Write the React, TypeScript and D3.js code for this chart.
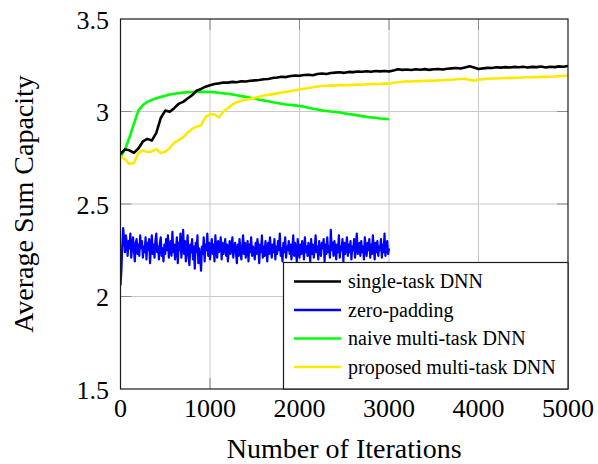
import React from "react";
import * as d3 from "d3";

// Iteration grids for each training curve
const step50To5000 = d3.range(0, 5001, 50);
const step50To3000 = d3.range(0, 3001, 50);
const step10To3000 = d3.range(0, 3001, 10);

// Average sum capacity per iteration
const singleTaskDNN = [
  2.771, 2.795, 2.79, 2.776, 2.8, 2.838, 2.852, 2.843, 2.885, 2.965,
  3.005, 2.998, 3.018, 3.042, 3.052, 3.07, 3.088, 3.112, 3.122, 3.134,
  3.142, 3.149, 3.152, 3.157, 3.156, 3.16, 3.158, 3.163, 3.162, 3.166,
  3.168, 3.17, 3.174, 3.176, 3.181, 3.184, 3.188, 3.186, 3.192, 3.194,
  3.193, 3.197, 3.199, 3.196, 3.203, 3.205, 3.203, 3.208, 3.21, 3.212,
  3.209, 3.214, 3.213, 3.216, 3.215, 3.218, 3.215, 3.219, 3.217, 3.219,
  3.216, 3.222, 3.228, 3.225, 3.227, 3.224, 3.228, 3.226, 3.229, 3.225,
  3.228, 3.23, 3.227, 3.231, 3.233, 3.235, 3.232, 3.238, 3.244, 3.238,
  3.23, 3.233, 3.236, 3.235, 3.239, 3.237, 3.24, 3.238, 3.241, 3.239,
  3.242, 3.238, 3.241, 3.24, 3.243, 3.238, 3.242, 3.24, 3.244, 3.242,
  3.246,
];

const zeroPadding = [
  2.06, 2.14, 2.28, 2.37, 2.31, 2.24, 2.33, 2.29, 2.22, 2.3,
  2.26, 2.34, 2.21, 2.27, 2.32, 2.25, 2.19, 2.29, 2.31, 2.23,
  2.28, 2.22, 2.33, 2.26, 2.3, 2.21, 2.27, 2.24, 2.32, 2.2,
  2.29, 2.25, 2.31, 2.18, 2.26, 2.33, 2.23, 2.28, 2.21, 2.3,
  2.34, 2.24, 2.27, 2.2, 2.29, 2.32, 2.22, 2.26, 2.19, 2.28,
  2.23, 2.31, 2.25, 2.33, 2.21, 2.27, 2.3, 2.22, 2.35, 2.24,
  2.28, 2.2, 2.26, 2.32, 2.18, 2.29, 2.25, 2.34, 2.21, 2.27,
  2.36, 2.23, 2.3, 2.19, 2.26, 2.33, 2.22, 2.17, 2.28, 2.24,
  2.31, 2.2, 2.27, 2.15, 2.29, 2.24, 2.33, 2.18, 2.26, 2.21,
  2.14, 2.27, 2.23, 2.32, 2.19, 2.28, 2.25, 2.34, 2.22, 2.29,
  2.2, 2.26, 2.31, 2.23, 2.28, 2.19, 2.33, 2.25, 2.21, 2.3,
  2.24, 2.27, 2.32, 2.2, 2.29, 2.23, 2.26, 2.31, 2.22, 2.28,
  2.19, 2.25, 2.3, 2.23, 2.27, 2.32, 2.21, 2.26, 2.29, 2.24,
  2.18, 2.28, 2.22, 2.31, 2.25, 2.2, 2.27, 2.33, 2.23, 2.29,
  2.21, 2.26, 2.3, 2.19, 2.28, 2.24, 2.32, 2.22, 2.27, 2.25,
  2.2, 2.29, 2.23, 2.31, 2.26, 2.18, 2.28, 2.24, 2.33, 2.21,
  2.27, 2.22, 2.3, 2.25, 2.19, 2.29, 2.23, 2.32, 2.26, 2.21,
  2.28, 2.24, 2.31, 2.2, 2.27, 2.23, 2.3, 2.25, 2.34, 2.22,
  2.26, 2.19, 2.29, 2.24, 2.32, 2.21, 2.27, 2.25, 2.3, 2.23,
  2.28, 2.2, 2.26, 2.33, 2.22, 2.29, 2.24, 2.19, 2.31, 2.25,
  2.21, 2.28, 2.23, 2.3, 2.26, 2.2, 2.32, 2.24, 2.27, 2.22,
  2.29, 2.25, 2.19, 2.31, 2.23, 2.28, 2.21, 2.26, 2.33, 2.24,
  2.27, 2.2, 2.3, 2.25, 2.22, 2.29, 2.26, 2.31, 2.19, 2.28,
  2.23, 2.32, 2.24, 2.27, 2.21, 2.36, 2.25, 2.29, 2.22, 2.3,
  2.26, 2.2, 2.28, 2.24, 2.33, 2.21, 2.27, 2.25, 2.31, 2.19,
  2.29, 2.23, 2.26, 2.32, 2.22, 2.28, 2.24, 2.3, 2.2, 2.27,
  2.25, 2.31, 2.21, 2.28, 2.34, 2.23, 2.26, 2.29, 2.22, 2.3,
  2.24, 2.27, 2.2, 2.32, 2.26, 2.22, 2.29, 2.25, 2.31, 2.21,
  2.28, 2.23, 2.33, 2.26, 2.2, 2.29, 2.24, 2.3, 2.22, 2.27,
  2.25, 2.31, 2.21, 2.28, 2.24, 2.34, 2.22, 2.27, 2.3, 2.23,
  2.26,
];

const naiveMultiTaskDNN = [
  2.755, 2.795, 2.86, 2.935, 3.005, 3.035, 3.052, 3.063, 3.072, 3.079,
  3.085, 3.092, 3.096, 3.099, 3.102, 3.104, 3.105, 3.106, 3.107, 3.106,
  3.105, 3.104, 3.101, 3.098, 3.096, 3.092, 3.088, 3.083, 3.079, 3.074,
  3.07, 3.064, 3.06, 3.055, 3.05, 3.046, 3.042, 3.038, 3.036, 3.033,
  3.03, 3.026, 3.02, 3.015, 3.011, 3.006, 3.003, 3.0, 2.998, 2.995,
  2.99, 2.986, 2.983, 2.979, 2.975, 2.971, 2.968, 2.966, 2.962, 2.961,
  2.958,
];

const proposedMultiTaskDNN = [
  2.757, 2.742, 2.716, 2.722, 2.775, 2.79, 2.781, 2.784, 2.797, 2.776,
  2.782, 2.803, 2.83, 2.845, 2.86, 2.885, 2.905, 2.918, 2.926, 2.97,
  2.986, 2.984, 2.968, 3.0, 3.018, 3.038, 3.05, 3.058, 3.063, 3.068,
  3.074, 3.08, 3.086, 3.09, 3.094, 3.098, 3.103, 3.106, 3.11, 3.115,
  3.119, 3.123, 3.127, 3.131, 3.135, 3.138, 3.139, 3.141, 3.14, 3.143,
  3.142, 3.142, 3.144, 3.146, 3.145, 3.147, 3.148, 3.149, 3.15, 3.152,
  3.15, 3.155, 3.158, 3.16, 3.164, 3.162, 3.165, 3.164, 3.166, 3.167,
  3.166, 3.168, 3.169, 3.171, 3.172, 3.174, 3.176, 3.177, 3.171, 3.167,
  3.172, 3.175, 3.177, 3.178, 3.178, 3.18, 3.181, 3.182, 3.182, 3.184,
  3.184, 3.185, 3.186, 3.186, 3.187, 3.187, 3.188, 3.189, 3.191, 3.192,
  3.195,
];

const xTicks = [0, 1000, 2000, 3000, 4000, 5000];
const yTicks = [1.5, 2, 2.5, 3, 3.5];
const xTickLabels = ["0", "1000", "2000", "3000", "4000", "5000"];
const yTickLabels = ["1.5", "2", "2.5", "3", "3.5"];

const seriesNames = [
  "single-task DNN",
  "zero-padding",
  "naive multi-task DNN",
  "proposed multi-task DNN",
];
const seriesColors = ["#000000", "#0000ff", "#00ff00", "#ffe900"];
const seriesWidths = [2.6, 2.2, 2.6, 2.6];

const W = 598;
const H = 464;
const plot = { left: 120.5, right: 568, top: 19, bottom: 389 };
const FONT = '"Liberation Serif", serif';

export default function App() {
  const x = d3.scaleLinear().domain([0, 5000]).range([plot.left, plot.right]);
  const y = d3.scaleLinear().domain([1.5, 3.5]).range([plot.bottom, plot.top]);

  const line = d3
    .line<[number, number]>()
    .x((d) => x(d[0]))
    .y((d) => y(d[1]));

  const zip = (xs: number[], vs: number[]) =>
    vs.map((v, i) => [xs[i], v] as [number, number]);

  const series = [
    zip(step50To5000, singleTaskDNN),
    zip(step10To3000, zeroPadding),
    zip(step50To3000, naiveMultiTaskDNN),
    zip(step50To5000, proposedMultiTaskDNN),
  ];
  // blue first, then green, yellow, black on top
  const drawOrder = [1, 2, 3, 0];

  const legend = { x0: 283.5, y0: 262.5, x1: plot.right, y1: plot.bottom };
  const legendRows = [281.5, 310, 338.5, 367];
  const tickLen = 11;
  const textStyle = { fontFamily: FONT };

  return (
    <svg
      width={W}
      height={H}
      style={{ position: "absolute", left: 0, top: 0, background: "#fff" }}
    >
      <defs>
        <clipPath id="plot-clip">
          <rect
            x={plot.left}
            y={plot.top}
            width={plot.right - plot.left}
            height={plot.bottom - plot.top}
          />
        </clipPath>
      </defs>
      <rect width={W} height={H} fill="#fff" />

      {/* grid */}
      {xTicks.slice(1, -1).map((t) => (
        <line
          key={"gx" + t}
          x1={x(t)}
          x2={x(t)}
          y1={plot.top}
          y2={plot.bottom}
          stroke="#c8c8c8"
          strokeWidth={1}
        />
      ))}
      {yTicks.slice(1, -1).map((t) => (
        <line
          key={"gy" + t}
          x1={plot.left}
          x2={plot.right}
          y1={y(t)}
          y2={y(t)}
          stroke="#c8c8c8"
          strokeWidth={1}
        />
      ))}

      {/* inner tick marks */}
      {xTicks.slice(1, -1).map((t) => (
        <g key={"tx" + t} stroke="#8c8c8c" strokeWidth={1}>
          <line x1={x(t)} x2={x(t)} y1={plot.bottom} y2={plot.bottom - tickLen} />
          <line x1={x(t)} x2={x(t)} y1={plot.top} y2={plot.top + tickLen} />
        </g>
      ))}
      {yTicks.slice(1, -1).map((t) => (
        <g key={"ty" + t} stroke="#8c8c8c" strokeWidth={1}>
          <line x1={plot.left} x2={plot.left + tickLen} y1={y(t)} y2={y(t)} />
          <line x1={plot.right} x2={plot.right - tickLen} y1={y(t)} y2={y(t)} />
        </g>
      ))}

      {/* curves */}
      <g clipPath="url(#plot-clip)">
        {drawOrder.map((i) => (
          <path
            key={"s" + i}
            d={line(series[i]) || ""}
            fill="none"
            stroke={seriesColors[i]}
            strokeWidth={seriesWidths[i]}
            strokeLinejoin="round"
          />
        ))}
      </g>

      {/* frame */}
      <rect
        x={plot.left}
        y={plot.top}
        width={plot.right - plot.left}
        height={plot.bottom - plot.top}
        fill="none"
        stroke="#1a1a1a"
        strokeWidth={1.2}
      />

      {/* legend */}
      <rect
        x={legend.x0}
        y={legend.y0}
        width={legend.x1 - legend.x0}
        height={legend.y1 - legend.y0}
        fill="#fff"
        stroke="#1a1a1a"
        strokeWidth={1.2}
      />
      {seriesNames.map((name, i) => (
        <g key={"l" + i}>
          <line
            x1={294}
            x2={341}
            y1={legendRows[i]}
            y2={legendRows[i]}
            stroke={seriesColors[i]}
            strokeWidth={2.6}
          />
          <text x={348} y={legendRows[i] + 6.5} fontSize={20} fill="#000" style={textStyle}>
            {name}
          </text>
        </g>
      ))}

      {/* tick labels */}
      {xTicks.map((t, i) => (
        <text
          key={"xl" + t}
          x={x(t)}
          y={417}
          fontSize={26}
          textAnchor="middle"
          fill="#000"
          style={textStyle}
        >
          {xTickLabels[i]}
        </text>
      ))}
      {yTicks.map((t, i) => (
        <text
          key={"yl" + t}
          x={109}
          y={y(t) + 9.5}
          fontSize={26}
          textAnchor="end"
          fill="#000"
          style={textStyle}
        >
          {yTickLabels[i]}
        </text>
      ))}

      {/* axis titles */}
      <text
        x={(plot.left + plot.right) / 2}
        y={458}
        fontSize={28}
        textAnchor="middle"
        fill="#000"
        style={textStyle}
      >
        Number of Iterations
      </text>
      <text
        transform={`translate(33,${(plot.top + plot.bottom) / 2}) rotate(-90)`}
        fontSize={28}
        textAnchor="middle"
        fill="#000"
        style={textStyle}
      >
        Average Sum Capacity
      </text>
    </svg>
  );
}
